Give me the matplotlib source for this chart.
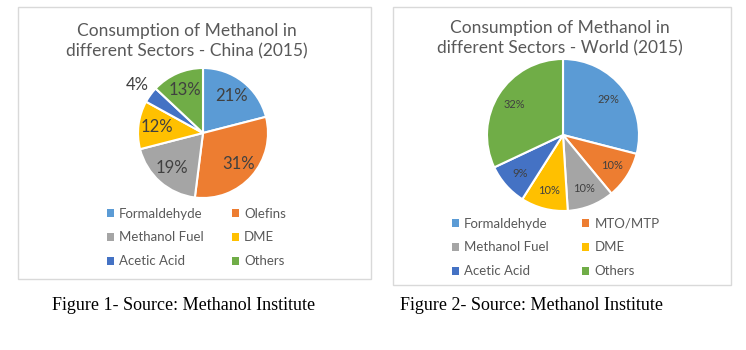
import matplotlib.pyplot as plt
from matplotlib.patches import Rectangle

# data
china_labels = ['Formaldehyde', 'Olefins', 'Methanol Fuel', 'DME', 'Acetic Acid', 'Others']
china_values = [21, 31, 19, 12, 4, 13]
world_labels = ['Formaldehyde', 'MTO/MTP', 'Methanol Fuel', 'DME', 'Acetic Acid', 'Others']
world_values = [29, 10, 10, 10, 9, 32]
colors = ['#5B9BD5', '#ED7D31', '#A5A5A5', '#FFC000', '#4472C4', '#70AD47']

china_title = 'Consumption of Methanol in\ndifferent Sectors - China (2015)'
world_title = 'Consumption of Methanol in\ndifferent Sectors - World (2015)'
captions = ['Figure 1- Source: Methanol Institute', 'Figure 2- Source: Methanol Institute']

W, H = 746, 350
fig = plt.figure(figsize=(W / 100, H / 100), dpi=100)
fig.patch.set_facecolor('white')


def px_box(x0, y0, x1, y1):
    # pixel box (top-left origin) -> figure fraction rect
    return [x0 / W, 1 - y1 / H, (x1 - x0) / W, (y1 - y0) / H]


# chart frames
for (x0, y0, x1, y1) in [(18, 7, 371, 279), (393, 7, 731, 285)]:
    fig.patches.append(Rectangle((x0 / W, 1 - y1 / H), (x1 - x0) / W, (y1 - y0) / H,
                                 transform=fig.transFigure, fill=False,
                                 edgecolor='#D9D9D9', linewidth=1))


def draw_pie(values, cx, cy, r, fs, pctd):
    ax = fig.add_axes(px_box(cx - r, cy - r, cx + r, cy + r))
    wedges, texts, autotexts = ax.pie(values, colors=colors, startangle=90, counterclock=False,
                                      autopct='%d%%', pctdistance=pctd,
                                      wedgeprops=dict(edgecolor='white', linewidth=1.5),
                                      textprops=dict(color='#404040', fontsize=fs, family='Lato'))
    ax.set_xlim(-1, 1)
    ax.set_ylim(-1, 1)
    return wedges, autotexts


# left: China
w1, t1 = draw_pie(china_values, 203, 133, 65, 12, 0.72)
# small slice label sits outside
x4, y4 = t1[4].get_position()
t1[4].set_position((x4 / 0.72 * 1.25, y4 / 0.72 * 1.25))
fig.text(187 / W, 1 - 41.5 / H, china_title, ha='center', va='center', fontsize=12.5,
         color='#595959', family='Lato', linespacing=1.3)

# right: World
w2, t2 = draw_pie(world_values, 563, 135, 76, 8, 0.76)
fig.text(560 / W, 1 - 38.5 / H, world_title, ha='center', va='center', fontsize=12.5,
         color='#595959', family='Lato', linespacing=1.3)

# legends, row-major order
for wedges, labels, (lx, ly, colsp) in [(w1, china_labels, (100, 201, 2.1)),
                                        (w2, world_labels, (445, 211, 2.5))]:
    idx = [0, 2, 4, 1, 3, 5]
    leg = fig.legend([wedges[i] for i in idx], [labels[i] for i in idx], ncol=2,
                     loc='upper left', bbox_to_anchor=(lx / W, 1 - ly / H), frameon=False,
                     handlelength=0.55, handleheight=0.55, handletextpad=0.4,
                     columnspacing=colsp, labelspacing=0.9, borderpad=0,
                     prop=dict(family='Lato', size=9.5))
    for h in leg.legend_handles:
        h.set_edgecolor('none')
    for t in leg.get_texts():
        t.set_color('#595959')

# captions
fig.text(184 / W, 1 - 305 / H, captions[0], ha='center', va='center', fontsize=13,
         family='Liberation Serif', color='black')
fig.text(531 / W, 1 - 305 / H, captions[1], ha='center', va='center', fontsize=13,
         family='Liberation Serif', color='black')

fig.savefig('out.png', dpi=100, facecolor='white')
